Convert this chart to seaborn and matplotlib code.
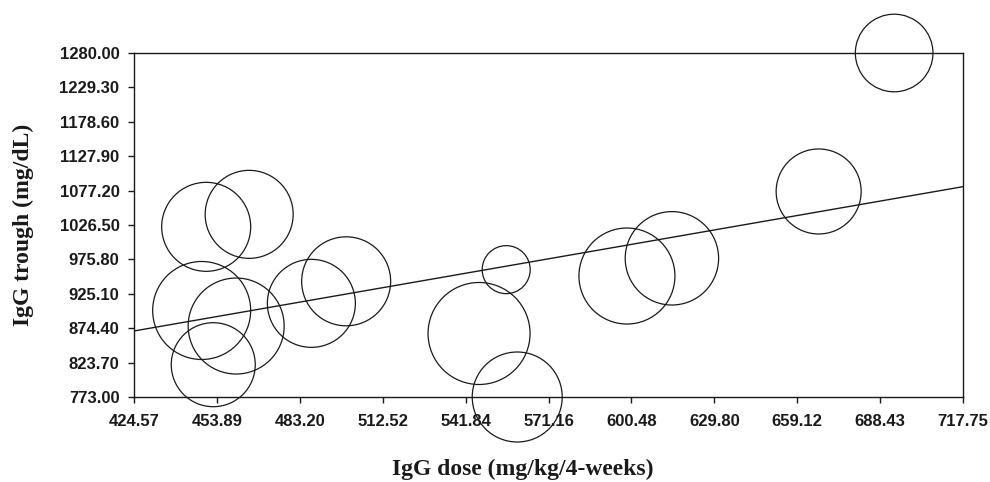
import numpy as np
import pandas as pd
import matplotlib
matplotlib.use("Agg")
import matplotlib.pyplot as plt
import seaborn as sns

# ---- data ----
igg_dose = [450.1, 465.3, 448.5, 460.7, 452.6, 487.3, 499.6,
            556.2, 546.6, 560.1, 598.9, 614.8, 666.7, 693.4]
igg_trough = [1023.8, 1042.2, 900.5, 877.6, 820.6, 911.0, 943.5,
              960.7, 866.6, 773.0, 951.3, 977.4, 1075.9, 1280.0]
bubble_radius = [44.5, 44.0, 49.0, 48.0, 42.0, 44.0, 44.5,
                 24.0, 51.0, 45.0, 48.0, 46.7, 42.5, 38.8]

trend_x = [424.57, 717.75]
trend_y = [870.3, 1083.0]

x_ticks = [424.57, 453.89, 483.20, 512.52, 541.84, 571.16, 600.48, 629.80, 659.12, 688.43, 717.75]
y_ticks = [773.00, 823.70, 874.40, 925.10, 975.80, 1026.50, 1077.20, 1127.90, 1178.60, 1229.30, 1280.00]

df = pd.DataFrame({"dose": igg_dose, "trough": igg_trough, "r": bubble_radius})

sns.set_theme(style="white")
plt.rcParams["font.family"] = ["Liberation Sans", "DejaVu Sans"]

fig = plt.figure(figsize=(9.9, 4.82), dpi=100)
ax = fig.add_axes([134 / 990, 1 - 397 / 482, (963 - 134) / 990, (397 - 53) / 482])

dpi = fig.dpi
areas = (2 * df["r"].to_numpy() * 72.0 / dpi) ** 2
sns.scatterplot(data=df, x="dose", y="trough", s=areas, facecolors="none",
                edgecolor="#1a1a1a", linewidth=0.9, ax=ax, clip_on=False,
                legend=False, zorder=3)

sns.lineplot(x=trend_x, y=trend_y, color="#1a1a1a", linewidth=1.0, ax=ax,
             legend=False, zorder=2)

ax.set_xlim(trend_x[0], trend_x[1])
ax.set_ylim(773.0, 1280.0)
ax.set_xticks(x_ticks)
ax.set_yticks(y_ticks)
ax.set_xticklabels([f"{v:.2f}" for v in x_ticks])
ax.set_yticklabels([f"{v:.2f}" for v in y_ticks])

for sp in ax.spines.values():
    sp.set_visible(True)
    sp.set_color("#1a1a1a")
    sp.set_linewidth(1.0)

ax.tick_params(axis="both", which="major", direction="out", length=4.5, width=1.0,
               color="#1a1a1a", labelsize=12, labelcolor="#1a1a1a")
ax.tick_params(axis="x", pad=8)
ax.tick_params(axis="y", pad=6)
ax.tick_params(axis="both", bottom=True, left=True)
for lab in ax.get_xticklabels() + ax.get_yticklabels():
    lab.set_fontweight("bold")

ax.set_xlabel("IgG dose (mg/kg/4-weeks)", family=["Liberation Serif", "DejaVu Serif"],
              fontweight="bold", fontsize=17, color="#1a1a1a")
ax.set_ylabel("IgG trough (mg/dL)", family=["Liberation Serif", "DejaVu Serif"],
              fontweight="bold", fontsize=17, color="#1a1a1a")
ax.xaxis.set_label_coords((523 - 134) / (963 - 134), -(459 - 397) / (397 - 53))
ax.yaxis.set_label_coords(-(134 - 34) / (963 - 134), 0.5)

fig.savefig("out.png", dpi=100, facecolor="white")
